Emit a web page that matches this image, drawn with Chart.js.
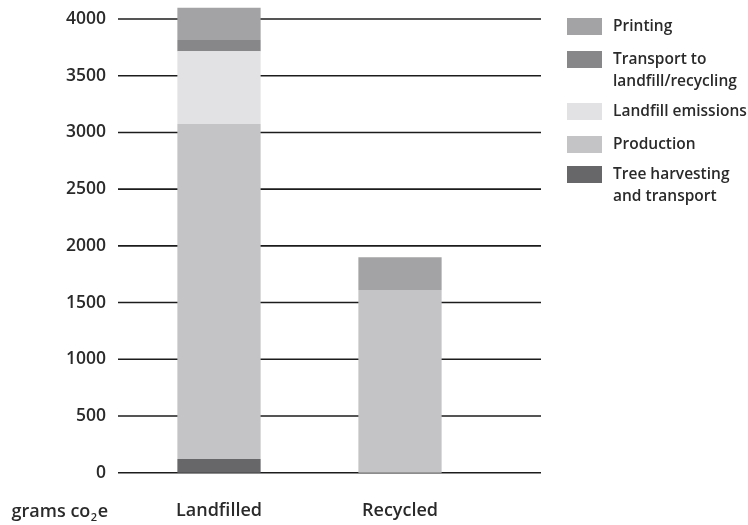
<!DOCTYPE html>
<html>
<head>
<meta charset="utf-8">
<style>
  html, body { margin: 0; padding: 0; background: #ffffff; }
  #wrap { width: 748px; height: 525px; }
</style>
<script src="https://cdn.jsdelivr.net/npm/chart.js@4/dist/chart.umd.min.js"></script>
</head>
<body>
<div id="wrap"><canvas id="c" width="748" height="525"></canvas></div>
<script>
// Carbon footprint per item, grams CO2e, split by life-cycle stage
const categories = ['Landfilled', 'Recycled'];
const treeHarvesting = [120, 0];
const production = [2955, 1610];
const landfillEmissions = [640, 0];
const transportToDisposal = [100, 0];
const printing = [285, 290];
const yTickValues = [0, 500, 1000, 1500, 2000, 2500, 3000, 3500, 4000];

// Legend text, top to bottom (reverse of stacking order)
const legendLines = [
  ['Printing'],
  ['Transport to', 'landfill/recycling'],
  ['Landfill emissions'],
  ['Production'],
  ['Tree harvesting', 'and transport']
];

const FONT = '"Open Sans", "DejaVu Sans", sans-serif';
const TEXT = '#2a2a2a';

function stage(label, data, color) {
  return { label, data, backgroundColor: color, borderWidth: 0, clip: false };
}

const datasets = [
  stage('Tree harvesting and transport', treeHarvesting, '#67676a'),
  stage('Production', production, '#c4c4c6'),
  stage('Landfill emissions', landfillEmissions, '#e2e2e4'),
  stage('Transport to landfill/recycling', transportToDisposal, '#87878a'),
  stage('Printing', printing, '#a3a3a5')
];

// Horizontal rules behind the bars, one per y tick
const ruleLines = {
  id: 'ruleLines',
  beforeDatasetsDraw(chart) {
    const { ctx, chartArea } = chart;
    const y = chart.scales.y;
    ctx.save();
    ctx.strokeStyle = '#1c1c1c';
    ctx.lineWidth = 1.6;
    y.ticks.forEach(t => {
      const py = y.getPixelForValue(t.value);
      ctx.beginPath();
      ctx.moveTo(chartArea.left - 10.5, py);
      ctx.lineTo(chartArea.right + 50.5, py);
      ctx.stroke();
    });
    ctx.restore();
  }
};

// Unit caption under the value axis: "grams co₂e"
const unitCaption = {
  id: 'unitCaption',
  afterDraw(chart) {
    const { ctx, chartArea } = chart;
    const base = chartArea.bottom + 44.5;
    const right = chartArea.left - 20.5;
    ctx.save();
    ctx.fillStyle = TEXT;
    ctx.textBaseline = 'alphabetic';
    ctx.textAlign = 'left';
    const big = '600 18px ' + FONT;
    const small = '600 11px ' + FONT;
    ctx.font = big;
    const w1 = ctx.measureText('grams co').width;
    const w3 = ctx.measureText('e').width;
    ctx.font = small;
    const w2 = ctx.measureText('2').width + 1;
    let x = right - (w1 + w2 + w3);
    ctx.font = big;
    ctx.fillText('grams co', x, base);
    x += w1;
    ctx.font = small;
    ctx.fillText('2', x + 0.5, base + 4);
    x += w2;
    ctx.font = big;
    ctx.fillText('e', x, base);
    ctx.restore();
  }
};

// Legend with swatches on the right, wrapped labels
const sideLegend = {
  id: 'sideLegend',
  afterDraw(chart) {
    const { ctx } = chart;
    const order = chart.data.datasets.slice().reverse();
    const swatchTops = [18, 51, 103, 136, 166];
    ctx.save();
    ctx.textBaseline = 'middle';
    ctx.textAlign = 'left';
    ctx.font = '600 15.5px ' + FONT;
    order.forEach((ds, i) => {
      const top = swatchTops[i];
      ctx.fillStyle = ds.backgroundColor;
      ctx.fillRect(567, top, 35, 17);
      ctx.fillStyle = TEXT;
      legendLines[i].forEach((line, j) => {
        ctx.fillText(line, 613, top + 9 + j * 21.5);
      });
    });
    ctx.restore();
  }
};

new Chart(document.getElementById('c'), {
  type: 'bar',
  data: { labels: categories, datasets },
  options: {
    responsive: false,
    animation: false,
    devicePixelRatio: 1,
    layout: { padding: { top: 19, right: 257.5, left: 0, bottom: 0 } },
    datasets: { bar: { categoryPercentage: 1, barPercentage: 0.46 } },
    plugins: { legend: { display: false }, tooltip: { enabled: false } },
    scales: {
      x: {
        stacked: true,
        grid: { display: false, drawTicks: false },
        border: { display: false },
        ticks: { color: TEXT, font: { family: FONT, size: 18, weight: '600' }, padding: 27 },
        afterFit(s) { s.height = 52.3; s.paddingLeft = 0; s.paddingRight = 0; }
      },
      y: {
        stacked: true,
        min: 0,
        max: 4000,
        grid: { display: false, drawTicks: false },
        border: { display: false },
        afterBuildTicks(s) { s.ticks = yTickValues.map(v => ({ value: v })); },
        ticks: {
          color: TEXT,
          font: { family: FONT, size: 17.5, weight: '600' },
          padding: 22.5,
          callback: v => String(v)
        },
        afterFit(s) { s.width = 128.5; s.paddingTop = 0; s.paddingBottom = 0; }
      }
    }
  },
  plugins: [ruleLines, unitCaption, sideLegend]
});
</script>
</body>
</html>
